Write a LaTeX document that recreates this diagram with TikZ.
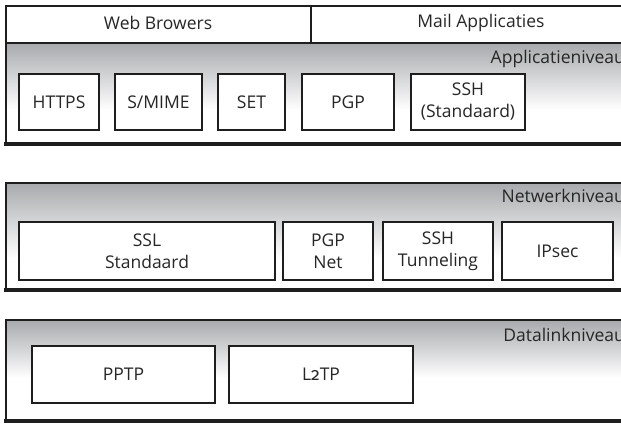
\documentclass[tikz,border=0pt]{standalone}
\usepackage{fontspec}
\setmainfont{Open Sans}
\newfontfamily\oldnum[Numbers=OldStyle]{Fira Sans}
\definecolor{shadegray}{HTML}{A9ABAE}
\definecolor{framegray}{HTML}{1E1E1E}
\tikzset{
  pbox/.style={draw=framegray, line width=1.8pt, fill=white, inner sep=0pt,
    align=center, font=\fontsize{17.5}{22}\selectfont, text=black!85},
  lvl/.style={anchor=east, inner sep=0pt, font=\fontsize{17.5}{20}\selectfont, text=black!85},
  hdr/.style={inner sep=0pt, font=\fontsize{17.5}{20}\selectfont, text=black!85},
  thin/.style={draw=framegray, line width=2pt},
  thick/.style={draw=framegray, line width=4pt},
}
\begin{document}
\begin{tikzpicture}[x=1pt,y=-1pt]
\useasboundingbox (0,0) rectangle (621,424);
% ---- top section: application level
\shade[top color=shadegray, bottom color=white] (6,44) rectangle (625,110);
\node[hdr] (web) at (158,23) {Web Browers};
\node[hdr] (mail) at (481,23) {Mail Applicaties};
\node[lvl] (appl) at (625,59) {Applicatieniveau};
\node[pbox, minimum width=80, minimum height=56] (https) at (59,102) {HTTPS};
\node[pbox, minimum width=87, minimum height=56] (smime) at (158.5,102) {S/MIME};
\node[pbox, minimum width=67, minimum height=56] (set) at (251.5,102) {SET};
\node[pbox, minimum width=92, minimum height=56] (pgp) at (348,102) {PGP};
\node[pbox, minimum width=114, minimum height=56] (ssh) at (468,102) {SSH\\(Standaard)};
\draw[thin] (625,6) -- (6,6) -- (6,146);
\draw[thin] (311,6) -- (311,43);
\draw[draw=framegray, line width=2.5pt] (6,43) -- (625,43);
\draw[thick] (4,144) -- (625,144);
% ---- middle section: network level
\shade[top color=shadegray, bottom color=white] (6,184) rectangle (625,258);
\node[lvl] (netw) at (625,196) {Netwerkniveau};
\node[pbox, minimum width=256, minimum height=58] (ssl) at (147,251) {SSL\\Standaard};
\node[pbox, minimum width=90, minimum height=58] (pgpnet) at (328,251) {PGP\\Net};
\node[pbox, minimum width=110, minimum height=58] (sshtun) at (438,251) {SSH\\Tunneling};
\node[pbox, minimum width=111, minimum height=58] (ipsec) at (557.5,251) {IPsec};
\draw[thin] (625,183) -- (6,183) -- (6,292);
\draw[thick] (4,290) -- (625,290);
% ---- bottom section: data link level
\shade[top color=shadegray, bottom color=white] (6,321) rectangle (625,378);
\node[lvl] (data) at (625,335) {Datalinkniveau};
\node[pbox, minimum width=183, minimum height=57] (pptp) at (123.5,374.5) {PPTP};
\node[pbox, minimum width=184, minimum height=57] (l2tp) at (321,374.5) {L{\oldnum 2}TP};
\draw[thin] (625,320) -- (6,320) -- (6,423);
\draw[thick] (4,421) -- (625,421);
\end{tikzpicture}
\end{document}
